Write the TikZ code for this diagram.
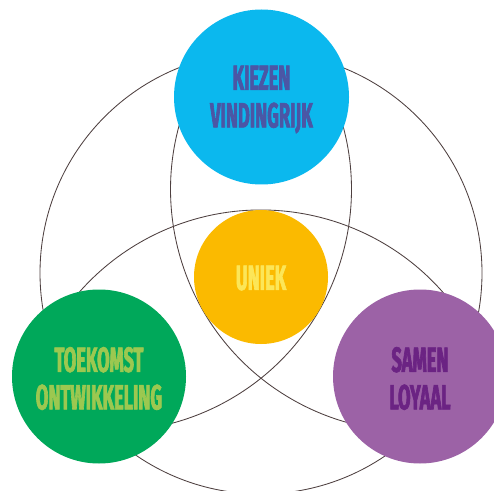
\documentclass[tikz,border=0pt]{standalone}
\usepackage{fontspec}
\newfontfamily\condfont[FakeStretch=0.52,FakeBold=1.8]{Fira Sans}
\definecolor{cBlue}{HTML}{0BB8EE}
\definecolor{tBlue}{HTML}{4B56A5}
\definecolor{cYellow}{HTML}{FBBA00}
\definecolor{tYellow}{HTML}{FCE658}
\definecolor{cGreen}{HTML}{00A85A}
\definecolor{tGreen}{HTML}{9CC850}
\definecolor{cPurple}{HTML}{9C62A6}
\definecolor{tPurple}{HTML}{6B2383}
\definecolor{lineCol}{HTML}{4E4040}
\begin{document}
\begin{tikzpicture}[x=1pt,y=1pt,
  ring/.style={draw=lineCol, line width=0.85pt},
  blob/.style={circle, inner sep=0pt, draw=none},
  lbl/.style={align=center, inner sep=0pt, font=\condfont\bfseries\fontsize{35}{37.5}\selectfont}]
\useasboundingbox (0,0) rectangle (494,490);
\clip (0,0) rectangle (494,490);
\fill[white] (0,0) rectangle (494,490);
% centres of the three inner arcs
\coordinate (cC) at (412.55,300.5);
\coordinate (cD) at (109.45,300.5);
\coordinate (cE) at (261,38);
\coordinate (cBig) at (261,217);
% big outer circle
\draw[ring] (cBig) circle[radius=221];
% inner arcs
\draw[ring] ([shift={(150:242)}]cC) arc[start angle=150, end angle=272, radius=242];
\draw[ring] ([shift={(30:242)}]cD) arc[start angle=30, end angle=-92, radius=242];
\draw[ring] ([shift={(25:242)}]cE) arc[start angle=25, end angle=155, radius=242];
% coloured circles
\node[blob, fill=cBlue, minimum size=175pt] (kiezen) at (261.5,393) {};
\node[blob, fill=cYellow, minimum size=134pt] (uniek) at (261,213) {};
\node[blob, fill=cGreen, minimum size=174pt] (toekomst) at (99,113.5) {};
\node[blob, fill=cPurple, minimum size=174pt] (samen) at (420,113.5) {};
% texts
\node[lbl, text=tBlue] (kiezenT) at ([yshift=-2.5pt]kiezen.center) {KIEZEN\\VINDINGRIJK};
\node[lbl, text=tYellow] (uniekT) at ([yshift=-1pt]uniek.center) {UNIEK};
\node[lbl, text=tGreen] (toekomstT) at ([yshift=-2pt]toekomst.center) {TOEKOMST\\ONTWIKKELING};
\node[lbl, text=tPurple] (samenT) at ([yshift=-2pt]samen.center) {SAMEN\\LOYAAL};
\end{tikzpicture}
\end{document}
